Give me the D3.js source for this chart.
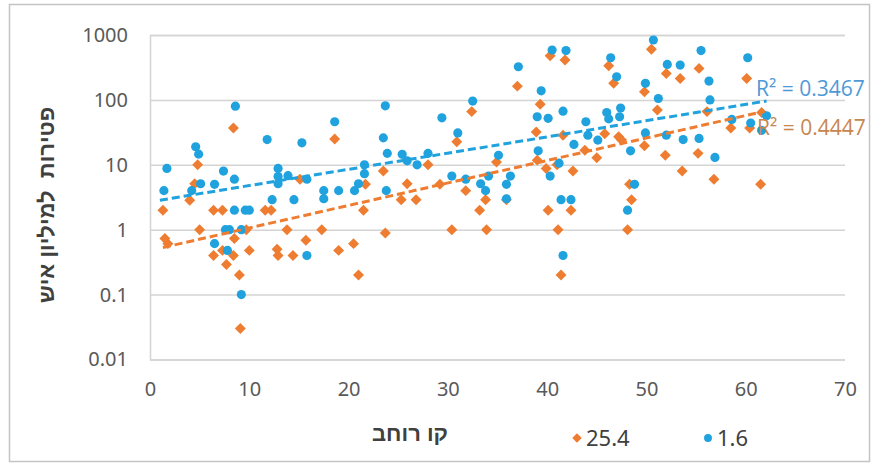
<!DOCTYPE html>
<html>
<head>
<meta charset="utf-8">
<script src="https://cdn.jsdelivr.net/npm/d3@7"></script>
<style>
  body { margin: 0; background: #fff; }
  svg { display: block; }
  .tick text { font-family: 'Noto Sans', sans-serif; font-size: 20px; fill: #595959; }
</style>
</head>
<body>
<div id="chart"></div>
<script>
// Size of the page and the plot box inside it
const WIDTH = 879;
const HEIGHT = 466;
const MARGIN = { left: 150, right: 34, top: 35, bottom: 106.5 };

// Series "25.4" (orange diamonds): latitude / deaths per million
const lat254 = [1.3, 1.5, 1.8, 4.0, 4.5, 4.8, 5.0, 6.4, 7.3, 6.4, 7.3, 7.7, 8.5, 8.4, 8.4, 9.0, 9.1, 9.7, 10.0,
  11.6, 12.2, 13.8, 12.8, 12.9, 14.4, 15.1, 15.7, 17.3, 18.6, 19.0, 20.5, 21.0, 21.5, 21.7, 23.5, 23.7,
  25.3, 25.9, 26.8, 28.0, 29.2, 30.4, 30.9, 31.8, 32.4, 33.2, 33.8, 33.9, 34.9, 35.9, 37.0, 39.3, 38.9,
  39.0, 39.9, 40.1, 40.3, 41.8, 41.1, 41.4, 41.6, 41.0, 42.4, 42.6, 43.8, 45.0, 45.8, 46.2, 46.7, 47.2,
  47.5, 48.3, 48.5, 48.1, 49.8, 49.8, 50.5, 51.1, 51.9, 52.0, 53.4, 55.3, 53.6, 55.2, 56.1, 56.8, 58.5,
  60.1, 60.4, 61.5, 61.6];
const deaths254 = [2.0, 0.73, 0.61, 2.85, 5.1, 10, 1.0, 2.0, 2.0, 0.4, 0.48, 0.29, 0.73, 0.4, 37, 0.2, 0.03, 1.0, 0.48,
  2.0, 2.0, 1.0, 0.5, 0.4, 0.4, 6.0, 0.69, 1.0, 25, 0.48, 0.61, 0.2, 2.0, 5.0, 8.0, 0.89,
  2.9, 5.1, 2.9, 10, 5.0, 1.0, 22.6, 4.0, 66, 2.0, 2.9, 1.0, 11, 2.9, 163, 86, 32,
  11.8, 8.8, 2.0, 480, 411, 1.0, 0.2, 28.6, 10, 2.0, 8.0, 16.8, 12.8, 30, 336, 180, 27,
  24, 5.0, 2.9, 1.0, 133, 19.6, 601, 70, 14, 256, 214, 306, 8.0, 15, 66, 6.0, 37,
  214, 37, 5.0, 64];

// Series "1.6" (blue dots)
const lat16 = [1.7, 1.4, 4.6, 4.9, 5.1, 4.2, 6.5, 7.4, 8.5, 8.6, 8.5, 9.6, 10.0, 7.6, 8.0, 9.2, 6.5, 7.8, 9.2,
  11.8, 12.9, 12.9, 12.9, 12.3, 13.9, 14.5, 15.3, 15.8, 15.8, 17.5, 17.5, 18.6, 19.0, 20.6, 21.0, 21.6,
  21.6, 23.7, 23.5, 23.9, 23.8, 25.4, 25.9, 26.9, 28.0, 29.4, 31.0, 32.5, 30.4, 31.8, 33.3, 33.8, 34.1,
  35.1, 36.3, 35.9, 35.9, 37.1, 39.4, 39.0, 40.1, 39.1, 40.5, 41.9, 41.6, 40.3, 41.2, 41.4, 42.4, 41.6,
  42.7, 43.9, 44.1, 45.1, 46.0, 46.2, 46.4, 47.0, 47.4, 47.3, 48.4, 48.8, 48.1, 49.9, 49.9, 50.7, 51.2,
  52.1, 52.0, 53.4, 55.5, 56.3, 56.4, 53.7, 55.3, 56.9, 58.6, 60.2, 60.5, 61.6, 62.1];
const deaths16 = [8.8, 4.0, 19, 14.6, 5.1, 4.0, 5.0, 8.0, 6.0, 80, 2.0, 2.0, 2.0, 1.0, 1.0, 1.0, 0.61, 0.48, 0.1,
  24.5, 8.8, 6.6, 5.1, 2.9, 6.8, 2.9, 21.8, 6.0, 0.4, 4.0, 3.0, 46, 4.0, 4.0, 5.1, 7.3,
  10, 81, 26, 15, 4.0, 14.5, 11.5, 10, 15, 53, 31, 96, 6.7, 6.0, 5.1, 4.0, 6.7,
  14, 6.7, 5.0, 3.0, 324, 138, 55, 52, 16.4, 587, 575, 67, 6.7, 10.6, 2.9, 2.9, 0.4,
  20.6, 46, 28.6, 24, 64, 51, 446, 227, 75, 55, 16.4, 5.0, 2.0, 180, 31, 837, 105,
  352, 28.6, 344, 575, 195, 100, 24.5, 25.5, 13, 50, 446, 44, 34, 57];

// exponential trend lines y = a * e^(b x), with their x range
const trend254 = { a: 0.479, b: 0.0798, from: 1.3, to: 61.9 };
const trend16 = { a: 2.69, b: 0.0576, from: 1.0, to: 62.1 };

const xTicks = [0, 10, 20, 30, 40, 50, 60, 70];
const yTicks = [0.01, 0.1, 1, 10, 100, 1000];
const seriesNames = ['25.4', '1.6'];
const r2Labels = ['R² = 0.4447', 'R² = 0.3467'];
const xTitle = 'קו רוחב';
const yTitle = 'פטירות  למיליון איש';

const ORANGE = '#ee7d31';
const BLUE = '#1fa2dd';

const plotW = WIDTH - MARGIN.left - MARGIN.right;
const plotH = HEIGHT - MARGIN.top - MARGIN.bottom;

const svg = d3.select('#chart').append('svg')
  .attr('width', WIDTH)
  .attr('height', HEIGHT);

svg.append('defs').append('clipPath').attr('id', 'frameclip')
  .append('rect').attr('x', 10).attr('y', 4).attr('width', 860).attr('height', 458);

// frame around the chart
svg.append('rect')
  .attr('x', 9.5).attr('y', 4.5)
  .attr('width', 860).attr('height', 457)
  .attr('fill', '#fff')
  .attr('stroke', '#c4c4c4')
  .attr('stroke-width', 1.5);

const xScale = d3.scaleLinear().domain([0, 70]).range([MARGIN.left, MARGIN.left + plotW]);
const yScale = d3.scaleLog().domain([0.01, 1000]).range([MARGIN.top + plotH, MARGIN.top]);

// horizontal grid + y labels
const yAxis = svg.append('g')
  .attr('transform', `translate(${MARGIN.left},0)`)
  .call(d3.axisLeft(yScale).tickValues(yTicks).tickFormat(d => String(d)).tickSize(-plotW).tickPadding(22));
yAxis.select('.domain').attr('stroke', '#d4d4d4').attr('stroke-width', 1.5);
yAxis.selectAll('.tick line').attr('stroke', '#d4d4d4').attr('stroke-width', 1.5);

const xAxis = svg.append('g')
  .attr('transform', `translate(0,${MARGIN.top + plotH})`)
  .call(d3.axisBottom(xScale).tickValues(xTicks).tickSize(0).tickPadding(22));
xAxis.select('.domain').remove();

const series = [
  { name: seriesNames[0], xs: lat254, ys: deaths254, color: ORANGE, shape: d3.symbolSquare, size: 60, rot: 45, trend: trend254 },
  { name: seriesNames[1], xs: lat16, ys: deaths16, color: BLUE, shape: d3.symbolCircle, size: 66, rot: 0, trend: trend16 }
];

const marks = svg.append('g');
series.forEach(s => {
  const pts = s.xs.map((x, i) => ({ x, y: s.ys[i] }));
  marks.append('g')
    .selectAll('path')
    .data(pts)
    .join('path')
    .attr('transform', d => `translate(${xScale(d.x)},${yScale(d.y)}) rotate(${s.rot})`)
    .attr('d', d3.symbol().type(s.shape).size(s.size))
    .attr('fill', s.color);
});

// trend lines on top of the markers
series.forEach(s => {
  const t = s.trend;
  const line = d3.line()
    .x(d => xScale(d))
    .y(d => yScale(t.a * Math.exp(t.b * d)));
  svg.append('path')
    .datum([t.from, t.to])
    .attr('d', line)
    .attr('fill', 'none')
    .attr('stroke', s.color)
    .attr('stroke-width', 3)
    .attr('stroke-dasharray', '8,4');
});

// R squared labels
const r2g = svg.append('g').attr('clip-path', 'url(#frameclip)')
  .style('font-family', "'Open Sans', sans-serif")
  .style('font-size', '21px');
r2g.append('text').attr('x', 756).attr('y', 96).attr('fill', '#4f9ad6').text(r2Labels[1]);
r2g.append('text').attr('x', 757).attr('y', 135).attr('fill', '#c8864f').text(r2Labels[0]);

// axis titles
svg.append('text')
  .attr('x', 410).attr('y', 441)
  .attr('text-anchor', 'middle')
  .attr('direction', 'rtl')
  .style('font-family', "'Liberation Sans', sans-serif")
  .style('font-weight', 'bold')
  .style('font-size', '22px')
  .attr('fill', '#404040')
  .text(xTitle);

svg.append('text')
  .attr('transform', 'translate(54,205) rotate(-90)')
  .attr('text-anchor', 'middle')
  .attr('direction', 'rtl')
  .style('white-space', 'pre')
  .style('font-family', "'Liberation Sans', sans-serif")
  .style('font-weight', 'bold')
  .style('font-size', '22px')
  .attr('fill', '#404040')
  .text(yTitle);

// legend
const legendX = [577, 708];
series.forEach((s, i) => {
  svg.append('path')
    .attr('transform', `translate(${legendX[i]},438) rotate(${s.rot})`)
    .attr('d', d3.symbol().type(s.shape).size(s.size * 0.75))
    .attr('fill', s.color);
  svg.append('text')
    .attr('x', legendX[i] + 9).attr('y', 446)
    .style('font-family', "'Noto Sans', sans-serif")
    .style('font-size', '22px')
    .attr('fill', '#404040')
    .text(s.name);
});
</script>
</body>
</html>
